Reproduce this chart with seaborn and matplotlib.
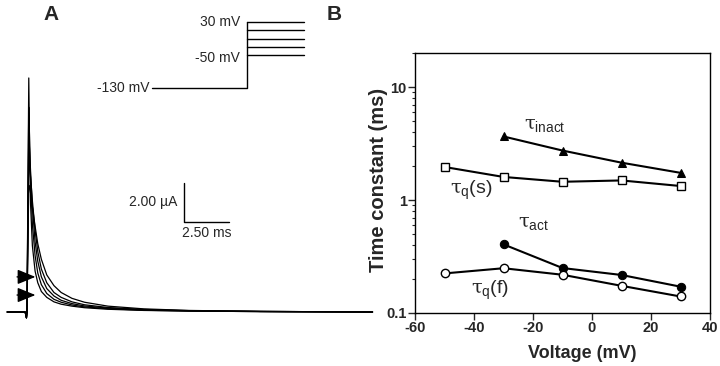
import numpy as np
import pandas as pd
import matplotlib
matplotlib.use("Agg")
import matplotlib.pyplot as plt
import seaborn as sns

sns.set_style("ticks")
plt.rcParams["font.family"] = ["Liberation Sans", "DejaVu Sans"]
plt.rcParams["mathtext.fontset"] = "custom"
plt.rcParams["mathtext.rm"] = "Liberation Sans"
plt.rcParams["mathtext.it"] = "DejaVu Serif"
plt.rcParams["axes.unicode_minus"] = False

# ---- panel A : current traces (time in ms, current in uA) ----
trace_t = [-1.1, -0.1, -0.03, 0.0, 0.1, 0.15, 0.2, 0.3, 0.45, 0.6, 0.8, 1.1,
           1.5, 1.9, 2.5, 3.2, 4.5, 6.5, 9.0, 13.0, 19.2]
traces = {
    "-50": [0, 0, -0.3, 0, 12.0, 8.0, 5.5, 3.4, 2.1, 1.5, 1.05, 0.75, 0.52, 0.40, 0.30, 0.22, 0.14, 0.08, 0.05, 0.02, 0],
    "-30": [0, 0, -0.3, 0, 10.5, 8.6, 6.8, 4.5, 2.9, 2.0, 1.40, 0.95, 0.65, 0.50, 0.36, 0.26, 0.17, 0.09, 0.05, 0.02, 0],
    "-10": [0, 0, -0.3, 0, 9.1, 8.2, 7.2, 5.4, 3.6, 2.6, 1.80, 1.20, 0.82, 0.60, 0.43, 0.31, 0.20, 0.11, 0.06, 0.03, 0],
    "10": [0, 0, -0.3, 0, 7.8, 7.4, 6.9, 5.7, 4.2, 3.1, 2.20, 1.50, 1.00, 0.75, 0.52, 0.37, 0.23, 0.13, 0.07, 0.03, 0],
    "30": [0, 0, -0.3, 0, 6.5, 6.4, 6.1, 5.4, 4.4, 3.5, 2.70, 1.90, 1.35, 1.00, 0.70, 0.50, 0.30, 0.16, 0.08, 0.03, 0],
}
arrow_I = [1.8, 0.87]

# voltage protocol
hold_mV = -130
step_mV = [-50, -30, -10, 10, 30]

# ---- panel B : time constants ----
volt_inact = [-30, -10, 10, 30]
tau_inact = [3.65, 2.74, 2.14, 1.74]
volt_qs = [-50, -30, -10, 10, 30]
tau_qs = [1.96, 1.60, 1.45, 1.49, 1.33]
volt_act = [-30, -10, 10, 30]
tau_act = [0.405, 0.25, 0.217, 0.171]
volt_qf = [-50, -30, -10, 10, 30]
tau_qf = [0.224, 0.249, 0.218, 0.174, 0.14]

W, H = 720, 366
fig = plt.figure(figsize=(7.2, 3.66), dpi=100)


def box(x0, y0, x1, y1):
    # pixel box (top-left origin) -> figure fraction
    return [x0 / W, 1 - y1 / H, (x1 - x0) / W, (y1 - y0) / H]


# ---- A ----
axA = fig.add_axes(box(7, 77, 372, 312))
for v, vals in traces.items():
    df = pd.DataFrame({"t": trace_t, "I": vals})
    sns.lineplot(data=df, x="t", y="I", sort=False, estimator=None,
                 color="black", lw=0.9, ax=axA)
axA.set_xlim(-1.11, 19.17)
axA.set_ylim(0, 12.05)
for ln in axA.lines:
    ln.set_clip_on(False)
axA.axis("off")

for yI in arrow_I:
    axA.annotate("", xy=(0.47, yI), xytext=(-0.55, yI),
                 arrowprops=dict(arrowstyle="-|>,head_length=1.1,head_width=0.45",
                                 mutation_scale=10, shrinkA=0, shrinkB=0,
                                 color="black", lw=1.0))

# scale bar
sb_t, sb_I = 8.72, 4.6
axA.plot([sb_t, sb_t, sb_t + 2.5], [sb_I + 2.0, sb_I, sb_I], color="black", lw=1.0)
axA.text(sb_t - 0.35, sb_I + 1.05, "2.00 µA", ha="right", va="center", fontsize=10)
axA.text(sb_t + 1.25, sb_I - 0.55, "2.50 ms", ha="center", va="center", fontsize=10)

# voltage protocol
axV = fig.add_axes(box(152, 22, 304, 88))
axV.set_xlim(0, 1)
axV.set_ylim(hold_mV, max(step_mV))
xs = 0.625
axV.plot([0, xs, xs], [hold_mV, hold_mV, max(step_mV)], color="black", lw=1.0, clip_on=False)
for v in step_mV:
    axV.plot([xs, 1], [v, v], color="black", lw=1.0, clip_on=False)
axV.axis("off")
axV.text(xs - 0.045, 30, "30 mV", ha="right", va="center", fontsize=10)
axV.text(xs - 0.045, -57, "-50 mV", ha="right", va="center", fontsize=10)
axV.text(-0.015, -130, "-130 mV", ha="right", va="center", fontsize=10)

fig.text(51 / W, 1 - 14 / H, "A", fontsize=15, fontweight="bold", ha="center", va="center")
fig.text(334 / W, 1 - 14 / H, "B", fontsize=15, fontweight="bold", ha="center", va="center")

# ---- B ----
axB = fig.add_axes(box(415, 53, 710, 313))
ms = 6
sns.lineplot(x=volt_inact, y=tau_inact, color="black", marker="^", markersize=ms,
             markerfacecolor="black", markeredgecolor="black", lw=1.5, ax=axB)
sns.lineplot(x=volt_qs, y=tau_qs, color="black", marker="s", markersize=ms - 0.5,
             markerfacecolor="white", markeredgecolor="black", markeredgewidth=1,
             lw=1.5, ax=axB)
sns.lineplot(x=volt_act, y=tau_act, color="black", marker="o", markersize=ms,
             markerfacecolor="black", markeredgecolor="black", lw=1.5, ax=axB)
sns.lineplot(x=volt_qf, y=tau_qf, color="black", marker="o", markersize=ms,
             markerfacecolor="white", markeredgecolor="black", markeredgewidth=1,
             lw=1.5, ax=axB)
axB.set_yscale("log")
axB.set_xlim(-60, 40)
axB.set_ylim(0.1, 20)
axB.set_xticks([-60, -40, -20, 0, 20, 40])
axB.set_yticks([0.1, 1, 10])
axB.set_yticklabels(["0.1", "1", "10"])
axB.tick_params(axis="both", which="major", direction="out", length=5, width=1,
                labelsize=10.5, pad=1)
axB.tick_params(axis="y", which="minor", direction="out", length=2.5, width=0.8)
for lab in axB.get_xticklabels() + axB.get_yticklabels():
    lab.set_fontweight("bold")
for sp in axB.spines.values():
    sp.set_visible(True)
    sp.set_linewidth(1.0)
    sp.set_color("black")
axB.set_xlabel("Voltage (mV)", fontsize=13, fontweight="bold")
axB.set_ylabel("Time constant (ms)", fontsize=14.5, fontweight="bold")
axB.xaxis.set_label_coords(0.566, -0.122)
axB.yaxis.set_label_coords(-0.09, 0.51)

axB.text(-23, 4.6, r"$\tau_{\mathregular{inact}}$", fontsize=14, ha="left", va="center")
axB.text(-48, 1.22, r"$\tau_{\mathregular{q}}$(s)", fontsize=14, ha="left", va="center")
axB.text(-25, 0.62, r"$\tau_{\mathregular{act}}$", fontsize=14, ha="left", va="center")
axB.text(-41, 0.16, r"$\tau_{\mathregular{q}}$(f)", fontsize=14, ha="left", va="center")

fig.savefig("out.png", dpi=100)
